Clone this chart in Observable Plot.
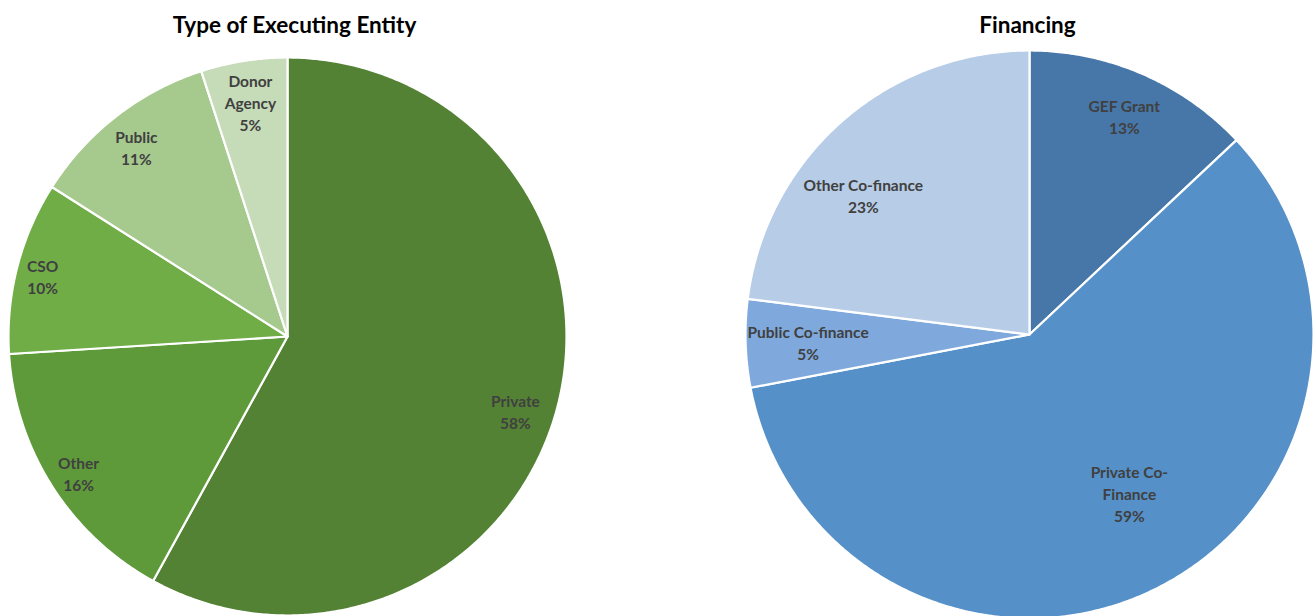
<!DOCTYPE html>
<html>
<head>
<meta charset="utf-8">
<script src="https://cdn.jsdelivr.net/npm/d3@7"></script>
<script src="https://cdn.jsdelivr.net/npm/@observablehq/plot@0.6"></script>
<style>
  body { margin: 0; background: #ffffff; }
  #wrap { position: relative; width: 1315px; height: 616px; overflow: hidden; }
  .pane { position: absolute; top: 0; }
</style>
</head>
<body>
<div id="wrap">
  <div id="left" class="pane" style="left:0px"></div>
  <div id="right" class="pane" style="left:657px"></div>
</div>
<script>
// ---- Data ----
const entityTitle = "Type of Executing Entity";
const entityCategories = ["Private", "Other", "CSO", "Public", "Donor Agency"];
const entityShares = [58, 16, 10, 11, 5];
const entityLabels = ["Private", "Other", "CSO", "Public", "Donor\nAgency"];

const financeTitle = "Financing";
const financeCategories = ["GEF Grant", "Private Co-Finance", "Public Co-finance", "Other Co-finance"];
const financeShares = [13, 59, 5, 23];
const financeLabels = ["GEF Grant", "Private Co-\nFinance", "Public Co-finance", "Other Co-finance"];

// ---- Styles / layout ----
const entityColors = ["#548235", "#5e9a3a", "#70ad47", "#a6c98e", "#c6dbb8"];
const financeColors = ["#4677a8", "#5590c8", "#7fa9dc", "#b7cce6"];
// label placement: fraction of radius, and angular nudge (degrees) from slice middle
const entityLabelRadius = [0.86, 0.894, 0.904, 0.87, 0.85];
const entityLabelShift = [3.8, -0.7, -0.6, -0.7, 0];
const financeLabelRadius = [0.84, 0.66, 0.78, 0.765];
const financeLabelShift = [0, -5.2, 0, -8.5];
const FONT = "Lato, 'Open Sans', sans-serif";

function pie({el, width, height, cx, cy, r, title, titleDx, categories, shares, labels, colors, labelRadius, labelShift}) {
  const arcs = d3.pie().sort(null).value(d => d.value)(
    categories.map((name, i) => ({name, value: shares[i], label: labels[i], lr: labelRadius[i], ls: labelShift[i] * Math.PI / 180}))
  );
  const pts = [];
  for (const a of arcs) {
    pts.push({name: a.data.name, x: 0, y: 0});
    const n = Math.max(2, Math.ceil((a.endAngle - a.startAngle) / (2 * Math.PI) * 720));
    for (let k = 0; k <= n; k++) {
      const t = a.startAngle + (a.endAngle - a.startAngle) * k / n;
      pts.push({name: a.data.name, x: Math.sin(t), y: Math.cos(t)});
    }
  }
  const mid = d => (d.startAngle + d.endAngle) / 2 + d.data.ls;
  const titleY = 1 + (cy - r - 25) / r;
  const chart = Plot.plot({
    width, height,
    margin: 0,
    x: {domain: [-1, 1], range: [cx - r, cx + r], axis: null},
    y: {domain: [-1, 1], range: [cy + r, cy - r], axis: null},
    color: {domain: categories, range: colors},
    style: {background: "transparent", overflow: "visible"},
    marks: [
      Plot.line(pts, {x: "x", y: "y", z: "name", fill: "name", stroke: "white", strokeWidth: 2.2, strokeLinejoin: "round", curve: "linear-closed"}),
      Plot.text(arcs, {
        x: d => d.data.lr * Math.sin(mid(d)),
        y: d => d.data.lr * Math.cos(mid(d)),
        text: d => `${d.data.label}\n${d.data.value}%`,
        fill: "#404040", fontSize: 15.5, fontWeight: "bold", fontFamily: FONT, lineHeight: 1.42
      }),
      Plot.text([title], {x: () => 0, y: () => titleY, text: d => d, dx: titleDx, fontSize: 22.5, fontWeight: "bold", fill: "#000000", fontFamily: FONT})
    ]
  });
  document.getElementById(el).appendChild(chart);
}

pie({el: "left", width: 657, height: 616, cx: 287, cy: 336, r: 279, title: entityTitle, titleDx: 7,
     categories: entityCategories, shares: entityShares, labels: entityLabels, colors: entityColors,
     labelRadius: entityLabelRadius, labelShift: entityLabelShift});
pie({el: "right", width: 658, height: 616, cx: 372, cy: 334, r: 284, title: financeTitle, titleDx: -2,
     categories: financeCategories, shares: financeShares, labels: financeLabels, colors: financeColors,
     labelRadius: financeLabelRadius, labelShift: financeLabelShift});
</script>
</body>
</html>
